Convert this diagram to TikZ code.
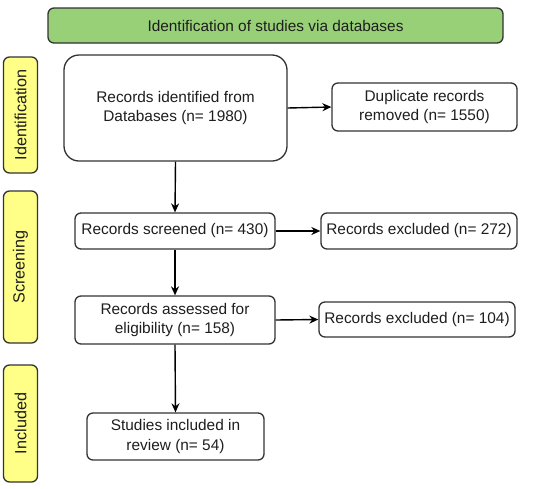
\documentclass[tikz,border=0pt]{standalone}
\usepackage{fontspec}
\setmainfont{Liberation Sans}
\usetikzlibrary{arrows.meta}
\definecolor{hdrgreen}{HTML}{97D077}
\definecolor{sideyellow}{HTML}{FFFF88}
\definecolor{strokegray}{HTML}{333333}
\definecolor{txtgray}{HTML}{1E1E1E}
\tikzset{
  base/.style={draw=strokegray, line width=1.3pt, align=center, inner sep=0pt,
    text=txtgray, font=\fontsize{15.4}{19.5}\selectfont},
  box/.style={base, rounded corners=6pt, fill=white},
  bigbox/.style={base, rounded corners=15pt, fill=white},
  hdr/.style={base, rounded corners=6pt, fill=hdrgreen},
  side/.style={base, rounded corners=6pt, fill=sideyellow, font=\fontsize{16.2}{19.5}\selectfont},
  conn/.style={draw=black, line width=1.4pt, -{Stealth[length=9pt,width=8pt]}}
}
\begin{document}
\begin{tikzpicture}[x=1pt,y=-1pt]
\useasboundingbox (0,0) rectangle (551,488);
\node[hdr, minimum width=455pt, minimum height=35pt] (hdr) at (275.5,25.5) {Identification of studies via databases};
\node[side, minimum width=34pt, minimum height=116pt] (sid) at (20.5,115) {\rotatebox{90}{Identification}};
\node[side, minimum width=34pt, minimum height=152pt] (ssc) at (20.5,267) {\rotatebox{90}{Screening}};
\node[side, minimum width=34pt, minimum height=117pt] (sin) at (20.5,423.5) {\rotatebox{90}{Included}};
\node[bigbox, minimum width=223pt, minimum height=106pt] (rec) at (175.5,108) {Records identified from\\Databases (n= 1980)};
\node[box, minimum width=185pt, minimum height=48pt] (dup) at (424.5,107) {Duplicate records\\removed (n= 1550)};
\node[box, minimum width=200pt, minimum height=36pt] (scr) at (175,231) {Records screened (n= 430)};
\node[box, minimum width=196pt, minimum height=36pt] (ex1) at (419,231) {Records excluded (n= 272)};
\node[box, minimum width=200pt, minimum height=48pt] (ass) at (175,320) {Records assessed for\\eligibility (n= 158)};
\node[box, minimum width=196pt, minimum height=35pt] (ex2) at (417,319.5) {Records excluded (n= 104)};
\node[box, minimum width=177pt, minimum height=47pt] (inc) at (175.5,436.5) {Studies included in\\review (n= 54)};
\draw[conn] (rec.east) -- (dup.west);
\draw[conn] (rec.south) -- (scr.north);
\draw[conn] (scr.east) -- (ex1.west);
\draw[conn] (scr.south) -- (ass.north);
\draw[conn] (ass.east) -- (ex2.west);
\draw[conn] (ass.south) -- (inc.north);
\end{tikzpicture}
\end{document}
